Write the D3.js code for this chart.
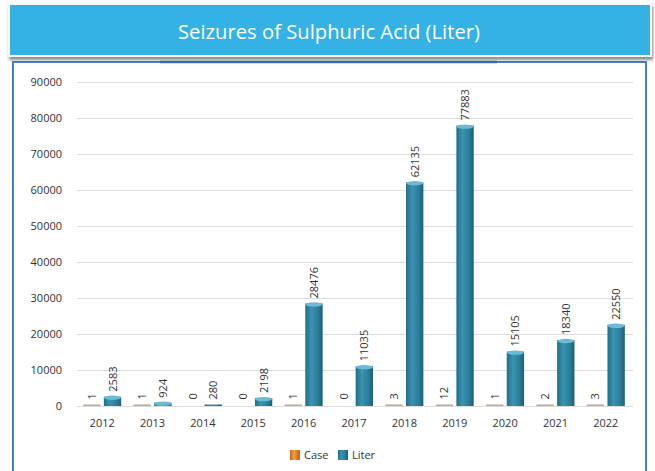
<!DOCTYPE html>
<html>
<head>
<meta charset="utf-8">
<script src="https://cdn.jsdelivr.net/npm/d3@7"></script>
<style>
  html, body { margin: 0; padding: 0; background: #fff; }
  svg { display: block; font-family: "Open Sans", "Noto Sans", sans-serif; }
</style>
</head>
<body>
<div id="chart"></div>
<script>
const years = ["2012","2013","2014","2015","2016","2017","2018","2019","2020","2021","2022"];
const cases = [1, 1, 0, 0, 1, 0, 3, 12, 1, 2, 3];
const liters = [2583, 924, 280, 2198, 28476, 11035, 62135, 77883, 15105, 18340, 22550];
const yTicks = [0, 10000, 20000, 30000, 40000, 50000, 60000, 70000, 80000, 90000];
const seriesNames = ["Case", "Liter"];

(function () {
const W = 655, H = 471;
const svg = d3.select("#chart").append("svg").attr("width", W).attr("height", H);
const defs = svg.append("defs");

// cylinder-ish gradients
const gl = defs.append("linearGradient").attr("id", "gLiter").attr("x1", 0).attr("x2", 1).attr("y1", 0).attr("y2", 0);
gl.append("stop").attr("offset", "0%").attr("stop-color", "#1f6f88");
gl.append("stop").attr("offset", "35%").attr("stop-color", "#3a93b0");
gl.append("stop").attr("offset", "70%").attr("stop-color", "#2b809c");
gl.append("stop").attr("offset", "100%").attr("stop-color", "#1b6078");
const gc = defs.append("linearGradient").attr("id", "gCase").attr("x1", 0).attr("x2", 1).attr("y1", 0).attr("y2", 0);
gc.append("stop").attr("offset", "0%").attr("stop-color", "#c8641a");
gc.append("stop").attr("offset", "40%").attr("stop-color", "#f0a040");
gc.append("stop").attr("offset", "100%").attr("stop-color", "#c06018");
const sh = defs.append("filter").attr("id", "shadow").attr("x", "-5%").attr("y", "-20%").attr("width", "110%").attr("height", "150%");
sh.append("feDropShadow").attr("dx", 1).attr("dy", 3).attr("stdDeviation", 1.5).attr("flood-color", "#000").attr("flood-opacity", 0.45);

// frame panel
svg.append("rect").attr("x", 13).attr("y", 62).attr("width", 633).attr("height", 420)
  .attr("fill", "#fff").attr("stroke", "#4a7ec6").attr("stroke-width", 2);
svg.append("line").attr("x1", 160).attr("x2", 497).attr("y1", 62).attr("y2", 62)
  .attr("stroke", "#3f6fb0").attr("stroke-width", 2.5);

// title banner
svg.append("rect").attr("x", 8).attr("y", 3).attr("width", 644).attr("height", 54)
  .attr("fill", "#fff").attr("filter", "url(#shadow)");
svg.append("rect").attr("x", 10).attr("y", 5).attr("width", 640).attr("height", 50)
  .attr("fill", "#34b1e5");
svg.append("text").attr("x", 329).attr("y", 39).attr("text-anchor", "middle")
  .attr("fill", "#fff").attr("font-size", 20)
  .attr("textLength", 302).attr("lengthAdjust", "spacingAndGlyphs")
  .text("Seizures of Sulphuric Acid (Liter)");

// plot
const pLeft = 77, pRight = 631, pTop = 82, pBottom = 406;
const x = d3.scaleBand().domain(years).range([pLeft, pRight]);
const xs = d3.scaleBand().domain(seriesNames).range([0, 38]).paddingInner(0.16);
const y = d3.scaleLinear().domain([0, 90000]).range([pBottom, pTop]);

const g = svg.append("g");
g.append("g").selectAll("line").data(yTicks).join("line")
  .attr("x1", pLeft).attr("x2", pRight + 2)
  .attr("y1", d => Math.round(y(d)) + 0.5).attr("y2", d => Math.round(y(d)) + 0.5)
  .attr("stroke", "#dcdcdc").attr("stroke-width", 1);

const yAxis = d3.axisLeft(y).tickValues(yTicks).tickSize(0).tickPadding(15).tickFormat(d3.format("d"));
g.append("g").attr("transform", `translate(${pLeft},0)`).call(yAxis)
  .call(a => a.select(".domain").remove())
  .selectAll("text").attr("font-size", 11).attr("fill", "#333")
  .attr("font-family", "'Open Sans', 'Noto Sans', sans-serif");

const xAxis = d3.axisBottom(x).tickSize(0).tickPadding(13);
g.append("g").attr("transform", `translate(0,${pBottom})`).call(xAxis)
  .call(a => a.select(".domain").remove())
  .selectAll("text").attr("font-size", 11).attr("fill", "#333")
  .attr("font-family", "'Open Sans', 'Noto Sans', sans-serif");

const groupOffset = (x.bandwidth() - 38) / 2;
const rows = years.map((yr, i) => ({ yr, vals: [cases[i], liters[i]] }));

const grp = g.append("g").selectAll("g").data(rows).join("g")
  .attr("transform", d => `translate(${x(d.yr) + groupOffset},0)`);

grp.each(function(d) {
  const sel = d3.select(this);
  d.vals.forEach((v, k) => {
    const name = seriesNames[k];
    const bx = xs(name), bw = xs.bandwidth();
    const yt = y(v);
    const h = v > 0 ? Math.max(pBottom - yt, 1.5) : 0;
    const fill = k === 0 ? "url(#gCase)" : "url(#gLiter)";
    if (h > 0) {
      sel.append("rect").attr("x", bx).attr("y", pBottom - h).attr("width", bw).attr("height", h)
        .attr("fill", k === 0 && v < 50 ? "#c8a48c" : fill);
    }
    if (k === 1 && h > 3) {
      sel.append("ellipse").attr("cx", bx + bw / 2).attr("cy", pBottom - h + 1)
        .attr("rx", bw / 2).attr("ry", 2.2).attr("fill", "#6cbad3");
    }
    sel.append("text")
      .attr("transform", `translate(${bx + bw / 2 + 4},${pBottom - Math.max(h, 1.5) - 5}) rotate(-90)`)
      .attr("font-size", 11).attr("fill", "#333")
      .text(v);
  });
});

// legend
const legend = svg.append("g").attr("transform", "translate(290,449)");
seriesNames.forEach((n, k) => {
  const lx = k === 0 ? 0 : 48;
  legend.append("rect").attr("x", lx).attr("y", 1).attr("width", 10).attr("height", 10)
    .attr("fill", k === 0 ? "url(#gCase)" : "url(#gLiter)");
  legend.append("text").attr("x", lx + 14).attr("y", 10).attr("font-size", 11).attr("fill", "#333").text(n);
});
})();
</script>
</body>
</html>
